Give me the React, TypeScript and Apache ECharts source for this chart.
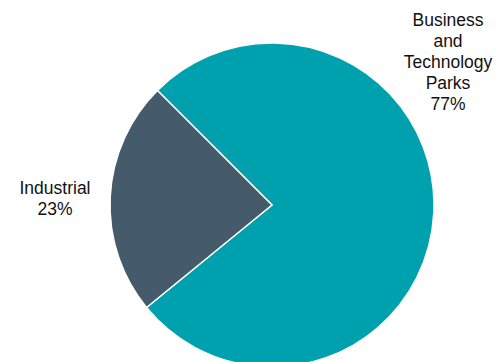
import React, { useEffect, useRef } from "react";
import * as echarts from "echarts";

const categories = ["Business\nand\nTechnology\nParks", "Industrial"];
const shares = [76.6, 23.4];
const colors = ["#00A1AF", "#455A6A"];

export default function App() {
  const ref = useRef<HTMLDivElement>(null);
  useEffect(() => {
    if (!ref.current) return;
    const chart = echarts.init(ref.current, null, { renderer: "svg" });
    const labelPos = [
      { x: 448, y: 62 },
      { x: 55, y: 198 },
    ];
    chart.setOption({
      animation: false,
      backgroundColor: "#ffffff",
      series: [
        {
          type: "pie",
          center: [272, 205],
          radius: 162,
          startAngle: 135,
          clockwise: true,
          percentPrecision: 0,
          avoidLabelOverlap: false,
          data: categories.map((name, i) => ({
            name,
            value: shares[i],
            itemStyle: { color: colors[i] },
          })),
          itemStyle: { borderColor: "#ffffff", borderWidth: 1.5 },
          label: {
            show: true,
            position: "outside",
            formatter: "{b}\n{d}%",
            fontFamily: "Liberation Sans, Arial, sans-serif",
            fontSize: 17.5,
            lineHeight: 21,
            color: "#111111",
            align: "center",
            overflow: "none",
            width: 200,
          },
          labelLine: { show: false },
          labelLayout: (params: any) => ({
            x: labelPos[params.dataIndex].x,
            y: labelPos[params.dataIndex].y,
            align: "center",
            verticalAlign: "middle",
            hideOverlap: false,
          }),
          emphasis: { disabled: true },
        },
      ],
    });
    return () => chart.dispose();
  }, []);
  return (
    <div
      ref={ref}
      style={{ position: "fixed", left: 0, top: 0, width: 497, height: 362 }}
    />
  );
}
